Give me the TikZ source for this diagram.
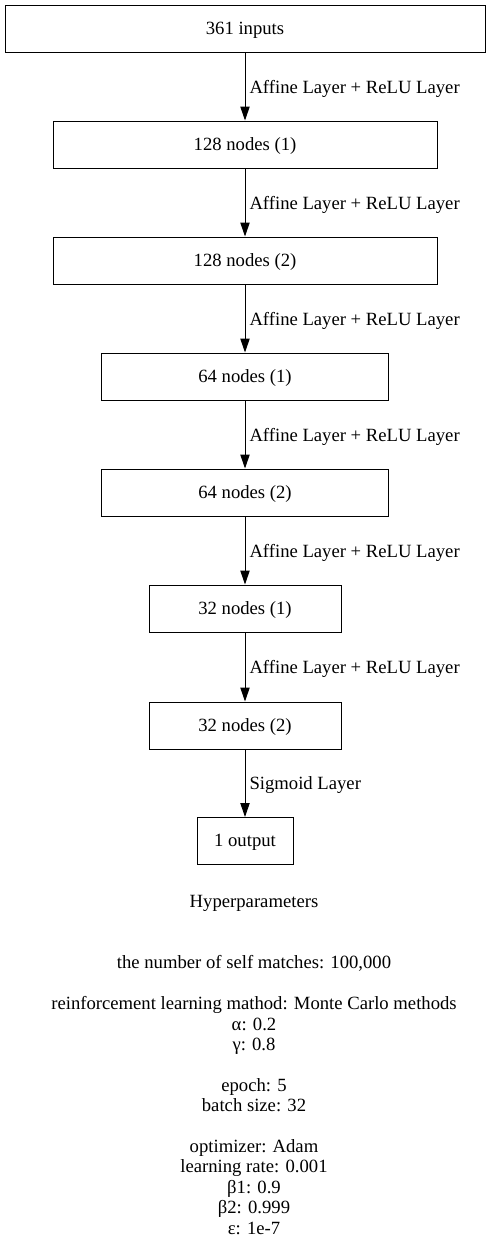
\documentclass[tikz,border=0pt]{standalone}
\usepackage{fontspec}
\setmainfont{Liberation Serif}
\usepackage{tikz}
\usetikzlibrary{arrows.meta,positioning}

\begin{document}
\begin{tikzpicture}[x=0.75pt,y=-0.75pt,
    layer/.style={draw,line width=0.75pt,minimum height=35.25pt,inner sep=0pt,text height=11pt,text depth=2.3pt,font=\fontsize{14}{16}\selectfont},
    edge/.style={line width=0.75pt,-{Triangle[length=10.5pt,width=7pt]}},
    lbl/.style={midway,anchor=west,inner sep=0pt,xshift=3pt,yshift=-1.5pt,font=\fontsize{14}{16}\selectfont}]
 %the network
  %canvas
    \useasboundingbox (0,0) rectangle (491,1249);
  %draw layers
    \node[layer,minimum width=360pt] (in) at (245,28.5) {361 inputs};
    \node[layer,minimum width=288pt] (h1a) at (245,144.5) {128 nodes (1)};
    \node[layer,minimum width=288pt] (h1b) at (245,260.5) {128 nodes (2)};
    \node[layer,minimum width=215.25pt] (h2a) at (245,376.5) {64 nodes (1)};
    \node[layer,minimum width=215.25pt] (h2b) at (245,492.5) {64 nodes (2)};
    \node[layer,minimum width=144pt] (h3a) at (245,608.5) {32 nodes (1)};
    \node[layer,minimum width=144pt] (h3b) at (245,725.5) {32 nodes (2)};
    \node[layer,minimum width=72pt] (out) at (245,841) {1 output};
  %draw edges
    \draw[edge] (in) -- node[lbl] {Affine Layer + ReLU Layer} (h1a);
    \draw[edge] (h1a) -- node[lbl] {Affine Layer + ReLU Layer} (h1b);
    \draw[edge] (h1b) -- node[lbl] {Affine Layer + ReLU Layer} (h2a);
    \draw[edge] (h2a) -- node[lbl] {Affine Layer + ReLU Layer} (h2b);
    \draw[edge] (h2b) -- node[lbl] {Affine Layer + ReLU Layer} (h3a);
    \draw[edge] (h3a) -- node[lbl] {Affine Layer + ReLU Layer} (h3b);
    \draw[edge] (h3b) -- node[lbl] {Sigmoid Layer} (out);
  %hyperparameters
    \node[align=center,inner sep=0pt,font=\fontsize{14}{15.3}\selectfont] (hyper) at (254,1065) {Hyperparameters\\[30.6pt]
      the number of self matches: 100,000\\[15.3pt]
      reinforcement learning mathod: Monte Carlo methods\\
      α: 0.2\\
      γ: 0.8\\[15.3pt]
      epoch: 5\\
      batch size: 32\\[15.3pt]
      optimizer: Adam\\
      learning rate: 0.001\\
      β1: 0.9\\
      β2: 0.999\\
      ε: 1e-7};
\end{tikzpicture}
\end{document}
